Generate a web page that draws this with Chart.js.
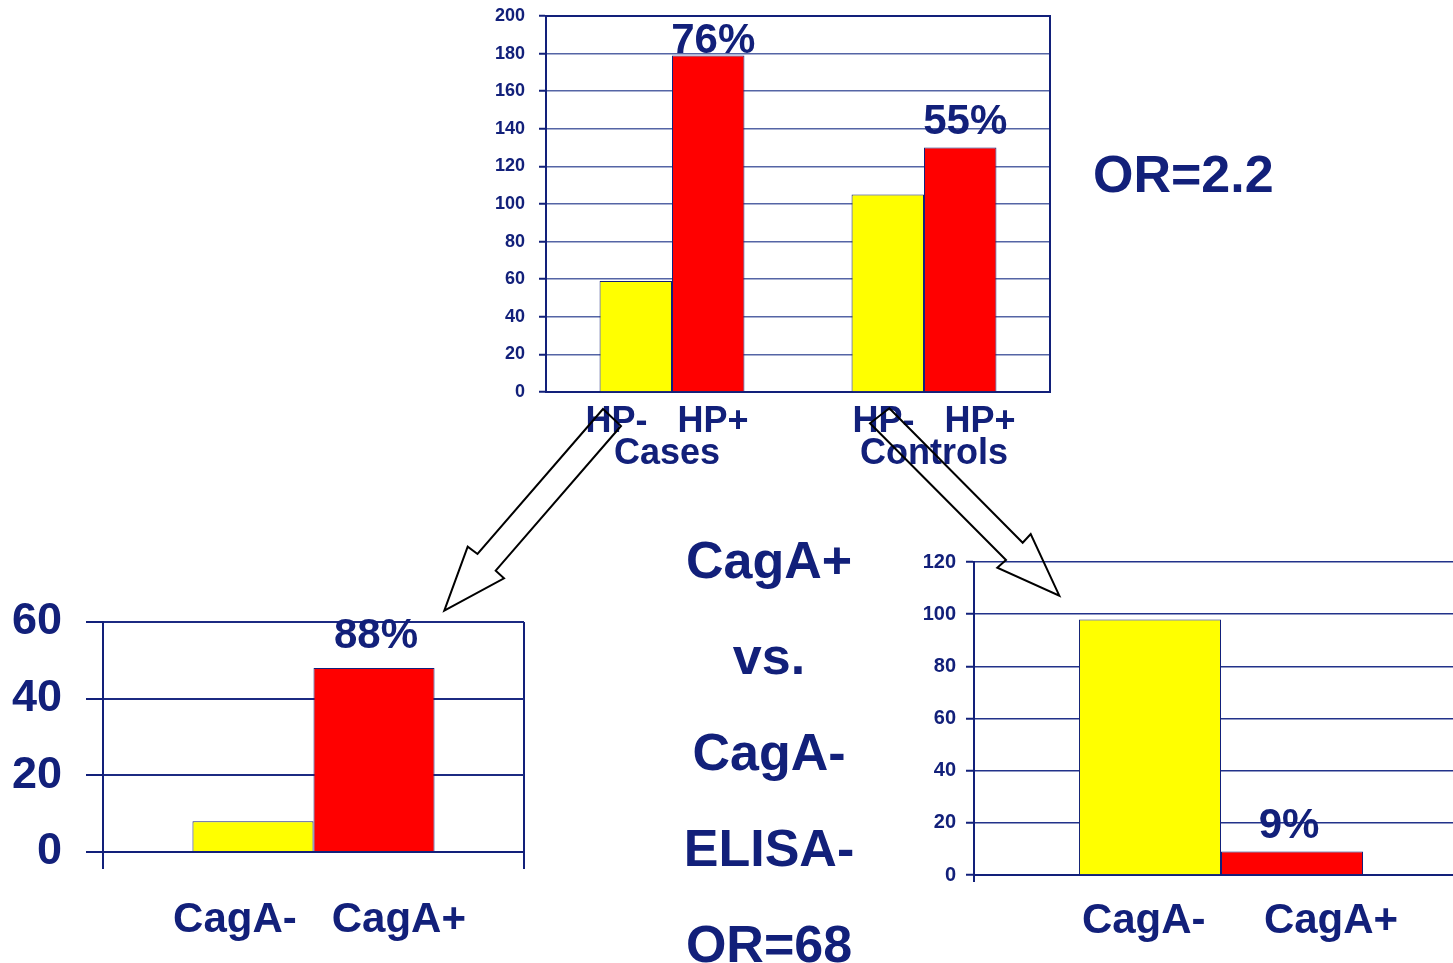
<!DOCTYPE html>
<html>
<head>
<meta charset="utf-8">
<script src="https://cdn.jsdelivr.net/npm/chart.js@4.4.1/dist/chart.umd.min.js"></script>
<style>
  html, body { margin: 0; padding: 0; background: #ffffff; overflow: hidden; width: 1453px; height: 963px; }
  .box { position: absolute; }
  .txt { position: absolute; font-family: 'Liberation Sans', Arial, sans-serif; font-weight: bold; color: #12207a; white-space: pre; }
  #arrows { position: absolute; left: 0; top: 0; pointer-events: none; }
</style>
</head>
<body>

<canvas id="topChart" class="box" width="600" height="480" style="left:470px;top:0px;"></canvas>
<canvas id="casesChart" class="box" width="560" height="403" style="left:0px;top:560px;"></canvas>
<canvas id="controlsChart" class="box" width="600" height="443" style="left:880px;top:520px;"></canvas>

<div class="txt" style="left:1093px;top:148px;font-size:52px;line-height:52px;">OR=2.2</div>
<div class="txt" style="left:669px;top:512px;width:200px;text-align:center;font-size:52px;line-height:96px;">CagA+
vs.
CagA-
ELISA-
OR=68</div>

<canvas id="arrows" width="1453" height="963"></canvas>

<script>
// ---- data ----
const groupLabels = [['HP-   HP+', 'Cases'], ['   HP-   HP+', '   Controls']];
const hpNegative = [59, 105];
const hpPositive = [179, 130];
const hpPositivePct = ['76%', '55%'];

const casesLabels = ['CagA-   CagA+'];
const casesCagANeg = [8];
const casesCagAPos = [48];
const casesCagAPosPct = ['88%'];

const controlsLabels = ['CagA-     CagA+'];
const controlsCagANeg = [98];
const controlsCagAPos = [9];
const controlsCagAPosPct = ['9%'];

// ---- styling ----
const NAVY = '#12207a';
const FONT = "'Liberation Sans', Arial, sans-serif";
const YELLOW = '#ffff00';
const RED = '#ff0000';

// percentage text above the red bars
const pctLabelPlugin = {
  id: 'pctLabels',
  afterDatasetsDraw(chart, args, opts) {
    const meta = chart.getDatasetMeta(opts.dataset);
    const ctx = chart.ctx;
    const size = opts.size || 42;
    const cap = size * 0.716;
    ctx.save();
    ctx.font = 'bold ' + size + 'px ' + FONT;
    ctx.fillStyle = NAVY;
    ctx.textAlign = 'center';
    ctx.textBaseline = 'alphabetic';
    meta.data.forEach((bar, i) => {
      const txt = opts.labels[i];
      if (!txt) return;
      let y = bar.y - opts.gap;
      if (opts.clamp) y = Math.max(y, chart.chartArea.top + cap + 7);
      ctx.fillText(txt, bar.x + (opts.dx || 0), y);
    });
    ctx.restore();
  }
};

// top/right edge of the plot frame
const framePlugin = {
  id: 'frame',
  beforeDatasetsDraw(chart, args, opts) {
    if (!opts.show) return;
    const a = chart.chartArea;
    const ctx = chart.ctx;
    ctx.save();
    ctx.strokeStyle = NAVY;
    ctx.lineWidth = 2;
    ctx.beginPath();
    ctx.moveTo(a.left, a.top);
    ctx.lineTo(a.right, a.top);
    ctx.lineTo(a.right, a.bottom);
    ctx.stroke();
    ctx.restore();
  }
};

function barSet(data, color) {
  return {
    data: data,
    backgroundColor: color,
    borderColor: NAVY,
    borderWidth: 1,
    barPercentage: 1,
    categoryPercentage: 0.575
  };
}

function makeChart(id, cfg) {
  return new Chart(document.getElementById(id), {
    type: 'bar',
    data: {
      labels: cfg.labels,
      datasets: [barSet(cfg.neg, YELLOW), barSet(cfg.pos, RED)]
    },
    plugins: [pctLabelPlugin, framePlugin],
    options: {
      responsive: false,
      animation: false,
      devicePixelRatio: 1,
      layout: { padding: cfg.padding },
      plugins: {
        legend: { display: false },
        tooltip: { enabled: false },
        pctLabels: { labels: cfg.pct, dataset: 1, gap: cfg.gap, dx: cfg.pctDx || 0, clamp: !!cfg.clamp },
        frame: { show: !!cfg.frame }
      },
      scales: {
        x: {
          afterFit(s) { s.height = cfg.xHeight; },
          grid: cfg.xGrid,
          border: { display: true, color: NAVY, width: 2 },
          ticks: {
            color: NAVY,
            font: { family: FONT, weight: 'bold', size: cfg.xFont, lineHeight: cfg.xLine },
            padding: cfg.xPad,
            labelOffset: cfg.xOffset || 0,
            maxRotation: 0,
            autoSkip: false
          }
        },
        y: {
          min: 0,
          max: cfg.max,
          afterFit(s) { s.width = cfg.yWidth; s.paddingTop = 0; s.paddingBottom = 0; },
          grid: { color: cfg.gridColor, lineWidth: cfg.gridWidth, tickLength: cfg.yTick, tickColor: NAVY, tickWidth: 2 },
          border: { display: true, color: NAVY, width: 2 },
          ticks: {
            stepSize: 20,
            color: NAVY,
            font: { family: FONT, weight: 'bold', size: cfg.yFont },
            padding: cfg.yPad
          }
        }
      }
    }
  });
}

// Helicobacter status: cases vs controls
makeChart('topChart', {
  labels: groupLabels, neg: hpNegative, pos: hpPositive, pct: hpPositivePct,
  max: 200, padding: { top: 16, right: 20, left: 0, bottom: 0 },
  yWidth: 76, xHeight: 88, yTick: 7, yPad: 14, yFont: 18,
  xFont: 36, xLine: 0.89, xPad: 6, xOffset: -5,
  xGrid: { display: false },
  gridColor: '#5565a5', gridWidth: 1.5,
  gap: 14, clamp: true, frame: true, pctDx: 5
});

// CagA status among cases
makeChart('casesChart', {
  labels: casesLabels, neg: casesCagANeg, pos: casesCagAPos, pct: casesCagAPosPct,
  max: 60, padding: { top: 62, right: 36, left: 0, bottom: 0 },
  yWidth: 103, xHeight: 111, yTick: 17, yPad: 24, yFont: 45,
  xFont: 42, xLine: 1, xPad: 30, xOffset: 6,
  xGrid: { display: true, offset: true, color: NAVY, lineWidth: 2, tickLength: 17, tickColor: NAVY, tickWidth: 2 },
  gridColor: '#1c2a82', gridWidth: 2,
  gap: 20, pctDx: 2
});

// CagA status among controls
makeChart('controlsChart', {
  labels: controlsLabels, neg: controlsCagANeg, pos: controlsCagAPos, pct: controlsCagAPosPct,
  max: 120, padding: { top: 42, right: 12, left: 0, bottom: 0 },
  yWidth: 94, xHeight: 88, yTick: 8, yPad: 10, yFont: 20,
  xFont: 42, xLine: 1, xPad: 18, xOffset: 19,
  xGrid: { display: true, offset: true, drawOnChartArea: false, color: NAVY, lineWidth: 2, tickLength: 7, tickColor: NAVY, tickWidth: 2 },
  gridColor: '#22328a', gridWidth: 1.5,
  gap: 14, pctDx: -3
});

// hollow block arrows leading from each group to its CagA breakdown
(function drawArrows() {
  const ctx = document.getElementById('arrows').getContext('2d');
  const shapes = [
    [[603, 409], [477.5, 554], [467.7, 546.7], [444.3, 610.7], [504, 578.3], [495.7, 570.7], [621, 426]],
    [[889.3, 408.3], [1022.7, 542.7], [1030.7, 534], [1059.3, 595.7], [997.3, 567.7], [1006, 560], [870, 423.3]]
  ];
  ctx.strokeStyle = '#000000';
  ctx.lineWidth = 2;
  ctx.lineJoin = 'miter';
  shapes.forEach(pts => {
    ctx.beginPath();
    ctx.moveTo(pts[0][0], pts[0][1]);
    for (let i = 1; i < pts.length; i++) ctx.lineTo(pts[i][0], pts[i][1]);
    ctx.closePath();
    ctx.stroke();
  });
})();
</script>
</body>
</html>
